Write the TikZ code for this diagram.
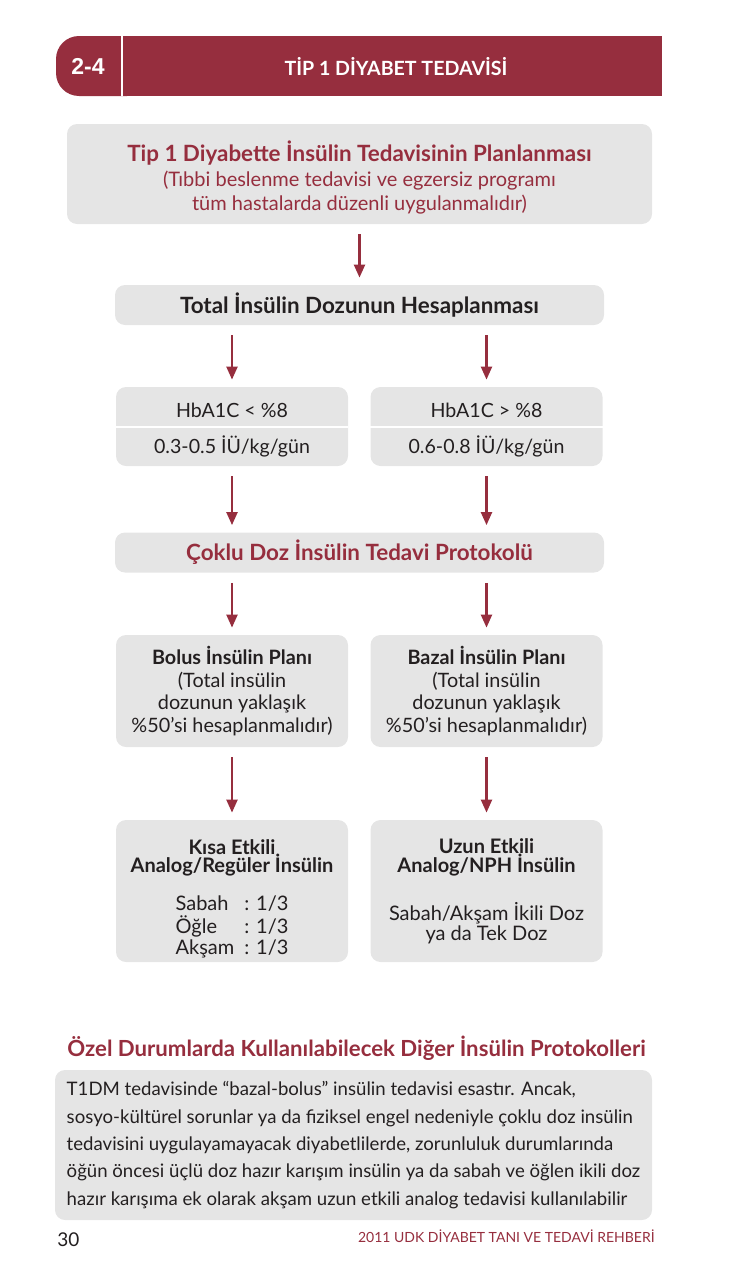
\documentclass[tikz,border=0pt]{standalone}
\usepackage{fontspec}
\setmainfont{Lato}
\newfontfamily\numfont{Liberation Sans}
\usepackage{xcolor}
\usetikzlibrary{arrows.meta}
\definecolor{udkred}{RGB}{150,46,62}
\definecolor{boxgray}{RGB}{229,229,229}
\definecolor{txtdark}{RGB}{35,31,32}
\newcommand\tightlines{\lineskiplimit=-5pt\relax\lineskip=0pt\relax}

\begin{document}
\begin{tikzpicture}[x=0.5pt, y=-0.5pt,
  arr/.style={-{Triangle[length=6.5pt, width=5.5pt]}, udkred, line width=1.1pt, shorten <=5pt, shorten >=3.5pt},
  graybox/.style={rectangle, rounded corners=5pt, fill=boxgray, align=center, inner sep=0pt, text=txtdark},
  widebox/.style={graybox, minimum width=244.5pt, minimum height=20pt, font=\bfseries\fontsize{11.2}{13}\selectfont},
  halfbox/.style={graybox, minimum width=116pt, font=\fontsize{9.9}{11.2}\selectfont},
  tightbox/.style={halfbox, minimum height=71pt, font={\fontsize{10}{9.3}\selectfont\tightlines}}
]
\useasboundingbox (0,0) rectangle (728,1274);

\fill[udkred, rounded corners=11.5pt] (56,36) rectangle (150,96);
\fill[udkred] (100,36) rectangle (662,96);
\draw[white, line width=1pt] (122,36) -- (122,96);
\node[text=white, font=\numfont\bfseries\fontsize{11.5}{13}\selectfont] (num) at (88,66) {2-4};
\node[text=white, font=\bfseries\fontsize{9.8}{11}\selectfont] (title) at (396,67) {TİP 1 DİYABET TEDAVİSİ};

\node[graybox, minimum width=292.5pt, minimum height=50pt, text=udkred, font=\fontsize{10}{12.3}\selectfont] (plan) at (359.5,174)
  {\rule{0pt}{14pt}{\bfseries\fontsize{11.2}{13}\selectfont Tip 1 Diyabette İnsülin Tedavisinin Planlanması}\\(Tıbbi beslenme tedavisi ve egzersiz programı\\tüm hastalarda düzenli uygulanmalıdır)};
\node[widebox] (tot) at (359.5,305) {Total İnsülin Dozunun Hesaplanması};

\node[halfbox, minimum height=39.5pt, font=\fontsize{9.8}{18}\selectfont] (lo) at (232,426.5) {\rule{0pt}{11pt}HbA1C < \%8\\0.3-0.5 İÜ/kg/gün};
\node[halfbox, minimum height=39.5pt, font=\fontsize{9.8}{18}\selectfont] (hi) at (486.5,426.5) {\rule{0pt}{11pt}HbA1C > \%8\\0.6-0.8 İÜ/kg/gün};
\draw[white, line width=1pt] (lo.west) -- (lo.east);
\draw[white, line width=1pt] (hi.west) -- (hi.east);

\node[widebox, text=udkred] (coklu) at (359.5,552.5) {Çoklu Doz İnsülin Tedavi Protokolü};

\node[halfbox, minimum height=56pt] (bolus) at (232,691) {\textbf{Bolus İnsülin Planı}\\(Total insülin\\dozunun yaklaşık\\\%50’si hesaplanmalıdır)};
\node[halfbox, minimum height=56pt] (bazal) at (486.5,691) {\textbf{Bazal İnsülin Planı}\\(Total insülin\\dozunun yaklaşık\\\%50’si hesaplanmalıdır)};

\node[tightbox] (kisa) at (232,891)
  {\rule{0pt}{16pt}\textbf{Kısa Etkili}\\\textbf{Analog/Regüler İnsülin}\\[9.5pt]
   \begin{tabular}[t]{@{}l@{\hspace{5pt}}l@{}}Sabah & : 1/3\\Öğle & : 1/3\\Akşam & : 1/3\end{tabular}};
\node[halfbox, minimum height=71pt, font=\fontsize{10}{9.5}\selectfont] (uzun) at (486.5,891)
  {\rule{0pt}{8pt}\textbf{Uzun Etkili}\\\textbf{Analog/NPH İnsülin}\\[12pt]Sabah/Akşam İkili Doz\\[0.5pt]ya da Tek Doz};

\draw[arr] (plan) -- (tot);
\draw[arr] (tot.south -| lo.north) -- (lo.north);
\draw[arr] (tot.south -| hi.north) -- (hi.north);
\draw[arr] (lo) -- (coklu.north -| lo.south);
\draw[arr] (hi) -- (coklu.north -| hi.south);
\draw[arr] (coklu.south -| bolus.north) -- (bolus.north);
\draw[arr] (coklu.south -| bazal.north) -- (bazal.north);
\draw[arr] (bolus) -- (kisa);
\draw[arr] (bazal) -- (uzun);

\node[anchor=west, inner sep=0pt, text=udkred, font=\bfseries\fontsize{11.1}{13}\selectfont] (ozel) at (67,1048)
  {Özel Durumlarda Kullanılabilecek Diğer İnsülin Protokolleri};
\node[graybox, minimum width=298.5pt, minimum height=75pt, align=left, font=\fontsize{9.3}{13.7}\selectfont] (note) at (353.5,1145)
  {T1DM tedavisinde “bazal-bolus” insülin tedavisi esastır. Ancak,\\
   sosyo-kültürel sorunlar ya da fiziksel engel nedeniyle çoklu doz insülin\\
   tedavisini uygulayamayacak diyabetlilerde, zorunluluk durumlarında\\
   öğün öncesi üçlü doz hazır karışım insülin ya da sabah ve öğlen ikili doz\\
   hazır karışıma ek olarak akşam uzun etkili analog tedavisi kullanılabilir};

\node[anchor=west, inner sep=0pt, text=txtdark, font=\fontsize{9.5}{11}\selectfont] (page) at (57,1240) {30};
\node[anchor=east, inner sep=0pt, text=udkred, font=\fontsize{7}{8}\selectfont] (ref) at (655,1236) {2011 UDK DİYABET TANI VE TEDAVİ REHBERİ};
\end{tikzpicture}
\end{document}
